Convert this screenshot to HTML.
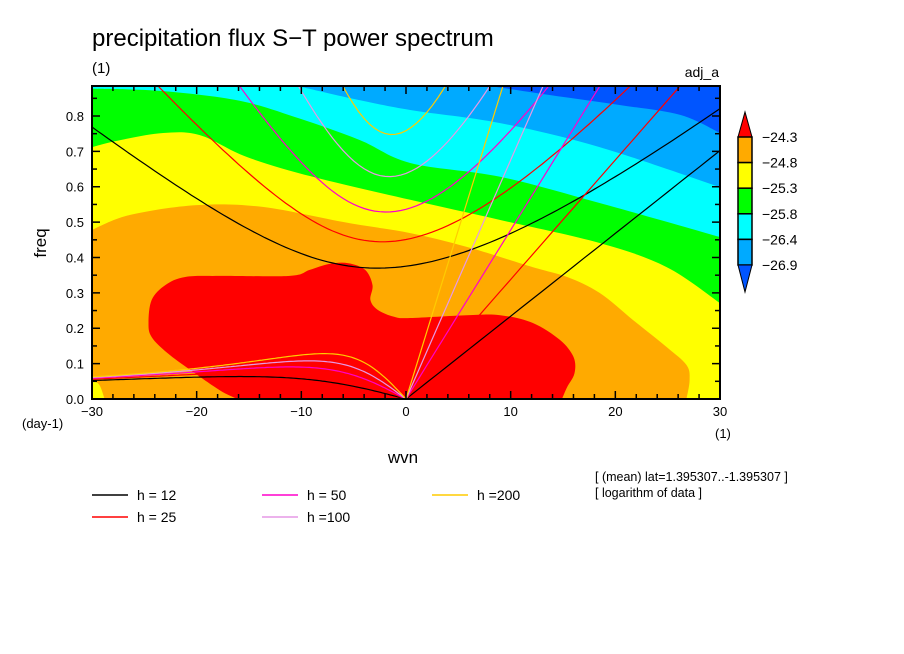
<!DOCTYPE html>
<html><head><meta charset="utf-8">
<style>
html,body{margin:0;padding:0;background:#fff;}
svg{display:block;font-family:"Liberation Sans",sans-serif;}
</style></head>
<body>
<svg id="chart" width="904" height="654" viewBox="0 0 904 654" xmlns="http://www.w3.org/2000/svg">
<rect x="0" y="0" width="904" height="654" fill="#fff"/>
<text x="92" y="46" font-size="24" fill="#000">precipitation flux S−T power spectrum</text>
<text x="92" y="73" font-size="15" fill="#000">(1)</text>
<text x="719" y="77" font-size="14" text-anchor="end" fill="#000">adj_a</text>
<defs><clipPath id="plotclip"><rect x="92" y="86" width="628" height="313"/></clipPath></defs>
<g id="fills" clip-path="url(#plotclip)"></g>
<g id="curves" clip-path="url(#plotclip)"></g>
<g id="axes"></g>
<text transform="translate(46,243) rotate(-90)" font-size="17" text-anchor="middle" fill="#000">freq</text>
<text x="22" y="428" font-size="13" fill="#000">(day-1)</text>
<text x="715" y="438" font-size="13" fill="#000">(1)</text>
<text x="403" y="463" font-size="17" text-anchor="middle" fill="#000">wvn</text>
<g id="colorbar"></g>
<g id="legend"></g>
<text x="595" y="481" font-size="12.5" fill="#000">[ (mean) lat=1.395307..-1.395307 ]</text>
<text x="595" y="497" font-size="12.5" fill="#000">[ logarithm of data ]</text>
</svg>
<script>
// ---- data ----
const depths = [12, 25, 50, 100, 200];
const depthColors = ["#000000", "#ff0000", "#ff00cc", "#e699e6", "#ffcc00"];
const levelLabels = ["-24.3", "-24.8", "-25.3", "-25.8", "-26.4", "-26.9"];
const levelColors = ["#ff0000", "#ffaa00", "#ffff00", "#00ff00", "#00ffff", "#00aaff", "#0055ff"];
const xTicks = [-30, -20, -10, 0, 10, 20, 30];
const yTicks = [0.0, 0.1, 0.2, 0.3, 0.4, 0.5, 0.6, 0.7, 0.8];
// contour boundaries in (wvn, freq)
const darkBlueEdge = [[8.0,0.885],[13.8,0.859],[20.4,0.831],[26.2,0.803],[30,0.752]];
const lightBlueEdge = [[-10.4,0.885],[-5.4,0.851],[0.4,0.817],[9.0,0.780],[18.5,0.712],[30,0.599]];
const cyanEdge = [[-30,0.877],[-23.5,0.871],[-15.9,0.843],[-10.1,0.792],[-4.4,0.732],[0.4,0.667],[9.0,0.628],[18.5,0.554],[30,0.458]];
const greenEdge = [[-30,0.712],[-27.3,0.732],[-23.2,0.752],[-19.7,0.746],[-15.2,0.684],[-8.9,0.628],[0.4,0.563],[9.0,0.506],[18.5,0.441],[24.9,0.373],[30,0.271]];
// orange: top edge down to the bottom at right, then bottom-left yellow corner edge
const orangeEdge = [[-30,0.478],[-26.4,0.520],[-20,0.548],[-13.7,0.543],[-5.6,0.498],[0.4,0.469],[5.8,0.430],[12.1,0.373],[15.4,0.345],[18.5,0.300],[21.7,0.223],[24.9,0.147],[26.8,0.096],[27.1,0.054],[26.8,0]];
const orangeCorner = [[-28.8,0],[-29.3,0.04],[-30,0.054]];
// red blob outline from bottom-left, around, to bottom-right
const redEdge = [[-16.1,0],[-17.8,0.025],[-20.6,0.082],[-22.8,0.130],[-24.3,0.175],[-24.6,0.215],[-24.3,0.280],[-23.0,0.322],[-21.1,0.345],[-17.8,0.348],[-11.1,0.348],[-9.2,0.365],[-7.3,0.382],[-5.5,0.384],[-3.9,0.365],[-3.2,0.322],[-3.4,0.280],[-2.7,0.252],[-1.1,0.232],[0.4,0.229],[5.8,0.237],[9.0,0.237],[12.1,0.215],[14.7,0.167],[16.0,0.119],[16.1,0.073],[15.4,0.034],[14.9,0]];

// ---- axes ----
const X0=92, X1=720, Y0=399, Y1=86;
const xMin=-30, xMax=30, yMin=0, yMax=0.8848;
const sx = v => X0 + (v - xMin) / (xMax - xMin) * (X1 - X0);
const sy = v => Y0 - (v - yMin) / (yMax - yMin) * (Y0 - Y1);
const NS="http://www.w3.org/2000/svg";
function mk(tag, attrs, parent){const e=document.createElementNS(NS,tag);for(const k in attrs)e.setAttribute(k,attrs[k]);parent.appendChild(e);return e;}
const fills=document.getElementById('fills'), curves=document.getElementById('curves'), axes=document.getElementById('axes');
const pts = arr => arr.map(p=>sx(p[0]).toFixed(1)+','+sy(p[1]).toFixed(1)).join(' ');
// open Catmull-Rom segment string (without initial M)
function smoothSeg(arr){
  const P=arr.map(p=>[sx(p[0]),sy(p[1])]);const n=P.length;
  const get=i=>P[Math.max(0,Math.min(n-1,i))];
  let d='';
  for(let i=0;i<n-1;i++){
    const p0=get(i-1),p1=get(i),p2=get(i+1),p3=get(i+2);
    const c1=[p1[0]+(p2[0]-p0[0])/6,p1[1]+(p2[1]-p0[1])/6];
    const c2=[p2[0]-(p3[0]-p1[0])/6,p2[1]-(p3[1]-p1[1])/6];
    d+=' C'+c1[0].toFixed(1)+','+c1[1].toFixed(1)+' '+c2[0].toFixed(1)+','+c2[1].toFixed(1)+' '+p2[0].toFixed(1)+','+p2[1].toFixed(1);
  }
  return d;
}
const M = p => 'M'+sx(p[0]).toFixed(1)+','+sy(p[1]).toFixed(1);
const L = p => ' L'+sx(p[0]).toFixed(1)+','+sy(p[1]).toFixed(1);

let e;
e=mk('rect',{x:X0,y:Y1,width:X1-X0,height:Y0-Y1,fill:levelColors[2]},fills);


function topRegion(edge,color,name){
  const first=edge[0], last=edge[edge.length-1];
  let d=M(first)+smoothSeg(edge)+L([32,last[1]])+L([32,1.1])+L([first[0],1.1])+' Z';
  if(first[0]<=-30){d=M([-32,first[1]])+L(first)+smoothSeg(edge)+L([32,last[1]])+L([32,1.1])+L([-32,1.1])+' Z';}
  const el=mk('path',{d:d,fill:color},fills);
  
  
}
topRegion(greenEdge,levelColors[3],'green-band');
topRegion(cyanEdge,levelColors[4],'cyan-band');
topRegion(lightBlueEdge,levelColors[5],'light-blue-band');
topRegion(darkBlueEdge,levelColors[6],'dark-blue-band');
let od=M(orangeEdge[0])+smoothSeg(orangeEdge)+L([orangeEdge[orangeEdge.length-1][0],-0.05])+L([orangeCorner[0][0],-0.05])+L(orangeCorner[0])+smoothSeg(orangeCorner)+' Z';
e=mk('path',{d:od,fill:levelColors[1]},fills);


let rd=M([redEdge[0][0],-0.05])+L(redEdge[0])+smoothSeg(redEdge)+L([redEdge[redEdge.length-1][0],-0.05])+' Z';
e=mk('path',{d:rd,fill:levelColors[0]},fills);



// ---- dispersion curves ----
const g=9.8, beta=2.29e-11, R=6.371e6, toCpd=86400/(2*Math.PI);
depths.forEach((h,i)=>{
  const c=Math.sqrt(g*h);
  const col=depthColors[i];
  let kp=[];
  for(let s=0;s<=30;s+=1){const k=s/R;kp.push([s,c*k*toCpd]);}
  e=mk('polyline',{points:pts(kp),fill:'none',stroke:col,'stroke-width':1.2},curves);
  
  
  let ig=[];
  for(let s=-30;s<=30;s+=0.5){const k=s/R;let w=Math.sqrt(3*beta*c+c*c*k*k)+1e-9;
    for(let it=0;it<60;it++){w=Math.sqrt(Math.max(3*beta*c+c*c*k*k+c*c*beta*k/w,1e-14));}
    ig.push([s,w*toCpd]);}
  e=mk('polyline',{points:pts(ig),fill:'none',stroke:col,'stroke-width':1.2},curves);
  
  
  let ro=[];
  for(let s=-30;s<=0;s+=0.25){const k=s/R;let w=0;
    for(let it=0;it<40;it++){w=-beta*k/(k*k+3*beta/c-w*w/(c*c));}
    ro.push([s,w*toCpd]);}
  e=mk('polyline',{points:pts(ro),fill:'none',stroke:col,'stroke-width':1.2},curves);
  
  
});

// ---- frame & ticks ----
e=mk('rect',{x:X0,y:Y1,width:X1-X0,height:Y0-Y1,fill:'none',stroke:'#000','stroke-width':2},axes);


for(let v=-30;v<=30;v+=2){const maj=(v%10===0);const Lt=maj?8:5;const x=sx(v);
  mk('line',{x1:x,y1:Y0,x2:x,y2:Y0-Lt,stroke:'#000','stroke-width':1.5},axes);
  mk('line',{x1:x,y1:Y1,x2:x,y2:Y1+Lt,stroke:'#000','stroke-width':1.5},axes);}
for(let i=0;i<=17;i++){const v=i*0.05;const maj=(i%2===0);const Lt=maj?8:5;const y=sy(v);
  mk('line',{x1:X0,y1:y,x2:X0+Lt,y2:y,stroke:'#000','stroke-width':1.5},axes);
  mk('line',{x1:X1,y1:y,x2:X1-Lt,y2:y,stroke:'#000','stroke-width':1.5},axes);}
xTicks.forEach(v=>{const t=mk('text',{x:sx(v),y:416,'font-size':13,'text-anchor':'middle',fill:'#000'},axes);t.textContent=v===0?'0':(v<0?'−'+(-v):String(v));
  
  });
yTicks.forEach(v=>{const t=mk('text',{x:84,y:sy(v)+5,'font-size':13,'text-anchor':'end',fill:'#000'},axes);t.textContent=v.toFixed(1);
  
  });

// ---- colorbar ----
const cb=document.getElementById('colorbar');
const cbX=738, cbW=14, cbTop=137, cbStep=25.6;
e=mk('polygon',{points:`${cbX},${cbTop} ${cbX+cbW/2},${cbTop-25} ${cbX+cbW},${cbTop}`,fill:levelColors[0],stroke:'#000','stroke-width':1},cb);


for(let i=1;i<=5;i++){
  e=mk('rect',{x:cbX,y:cbTop+(i-1)*cbStep,width:cbW,height:cbStep,fill:levelColors[i],stroke:'#000','stroke-width':1.5},cb);
  
  
}
const cbBot=cbTop+5*cbStep;
e=mk('polygon',{points:`${cbX},${cbBot} ${cbX+cbW/2},${cbBot+27} ${cbX+cbW},${cbBot}`,fill:levelColors[6],stroke:'#000','stroke-width':1},cb);


levelLabels.forEach((s,i)=>{const t=mk('text',{x:762,y:cbTop+i*cbStep+5,'font-size':14,fill:'#000'},cb);t.textContent=s.replace('-','−');
  
  });

// ---- legend ----
const lg=document.getElementById('legend');
const legPos=[[92,495],[92,517],[262,495],[262,517],[432,495]];
const legOrder=[0,1,2,3,4];
legOrder.forEach((di,j)=>{const [lx,ly]=legPos[j];
  const l=mk('line',{x1:lx,y1:ly,x2:lx+36,y2:ly,stroke:depthColors[di],'stroke-width':1.5},lg);
  
  
  const h=depths[di];
  const t=mk('text',{x:lx+45,y:ly+5,'font-size':14,fill:'#000'},lg);
  t.textContent=h>=100?('h ='+h):('h = '+h);
  
  });
</script>
</body></html>
